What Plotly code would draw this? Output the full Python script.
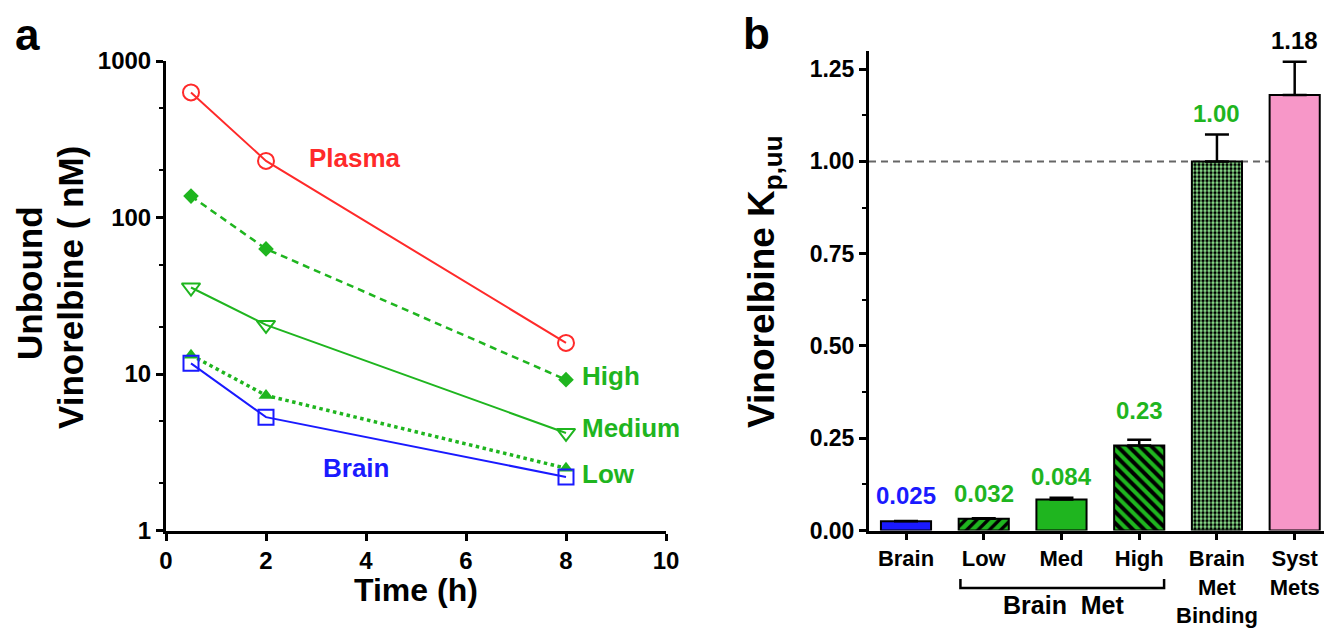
import plotly.graph_objects as go

# ---------------- data ----------------
time_h = [0.5, 2, 8]
plasma = [630, 230, 15.8]
high = [137, 63, 9.2]
medium = [35.7, 20.6, 4.2]
low = [13.2, 7.3, 2.5]
brain = [11.7, 5.3, 2.2]

bar_cats = ["Brain", "Low", "Med", "High", "Brain Met Binding", "Syst Mets"]
bar_ticktext = ["Brain", "Low", "Med", "High", "Brain<br>Met<br>Binding", "Syst<br>Mets"]
kp_values = [0.025, 0.032, 0.084, 0.23, 1.00, 1.18]
kp_errors = [0.001, 0.001, 0.005, 0.016, 0.073, 0.09]
kp_labels = ["0.025", "0.032", "0.084", "0.23", "1.00", "1.18"]

RED = "#ff2a2a"
GREEN = "#1fb51f"
BLUE = "#1a1aff"
PINK = "#f797c8"
LGREEN = "#90e890"
SANS = "Liberation Sans, Arial, sans-serif"

# the page body adds an 8px margin; size the figure so it fits the window exactly
OFF = 8
W, H = 1332 - 2 * OFF, 637 - 2 * OFF
def px(X):
    return (X - OFF) / W
def py(Y):
    return 1 - (Y - OFF) / H

fig = go.Figure()

# ---------------- panel a ----------------
fig.add_trace(go.Scatter(x=time_h, y=plasma, mode="lines+markers", xaxis="x", yaxis="y",
                         line=dict(color=RED, width=2),
                         marker=dict(symbol="circle-open", size=16, color=RED, line=dict(width=2))))
fig.add_trace(go.Scatter(x=time_h, y=high, mode="lines+markers", xaxis="x", yaxis="y",
                         line=dict(color=GREEN, width=2.5, dash="7px,5px"),
                         marker=dict(symbol="diamond", size=12, color=GREEN)))
fig.add_trace(go.Scatter(x=time_h, y=medium, mode="lines+markers", xaxis="x", yaxis="y",
                         line=dict(color=GREEN, width=2),
                         marker=dict(symbol="triangle-down-open", size=16, color=GREEN, line=dict(width=2))))
fig.add_trace(go.Scatter(x=time_h, y=low, mode="lines+markers", xaxis="x", yaxis="y",
                         line=dict(color=GREEN, width=3.5, dash="dot"),
                         marker=dict(symbol="triangle-up", size=13, color=GREEN)))
fig.add_trace(go.Scatter(x=time_h, y=brain, mode="lines+markers", xaxis="x", yaxis="y",
                         line=dict(color=BLUE, width=2),
                         marker=dict(symbol="square-open", size=15, color=BLUE, line=dict(width=2))))

# ---------------- panel b ----------------
bar_colors = [BLUE, GREEN, GREEN, GREEN, LGREEN, PINK]
bar_shapes = ["", "/", "", "\\", ".", ""]
bar_psize = [6, 8, 6, 8, 4, 6]
bar_solid = [0.3, 0.42, 0.3, 0.5, 0.55, 0.3]
for i in range(len(bar_cats)):
    fig.add_trace(go.Bar(
        x=[i], y=[kp_values[i]], xaxis="x2", yaxis="y2", width=0.645,
        marker=dict(color=bar_colors[i],
                    line=dict(color="black", width=2),
                    pattern=dict(shape=bar_shapes[i], fgcolor="black", bgcolor=bar_colors[i],
                                 fgopacity=1, size=bar_psize[i], solidity=bar_solid[i],
                                 fillmode="overlay")),
        error_y=dict(type="data", symmetric=False, array=[kp_errors[i]], arrayminus=[0],
                     color="black", thickness=2.5, width=12),
    ))

tickfont = dict(family=SANS, size=22, color="black", weight="bold")
tickfont_a = dict(family=SANS, size=24, color="black", weight="bold")

fig.update_layout(
    width=W, height=H,
    margin=dict(l=0, r=0, t=0, b=0, autoexpand=False),
    paper_bgcolor="white", plot_bgcolor="white",
    showlegend=False, barmode="overlay",
    xaxis=dict(domain=[px(166), px(666)], range=[0, 10], dtick=2, tick0=0,
               showgrid=False, zeroline=False, showline=True, linecolor="black", linewidth=3,
               ticks="outside", ticklen=7, tickwidth=2.5, tickcolor="black",
               tickfont=tickfont_a, anchor="y", automargin=False),
    yaxis=dict(domain=[py(530.5), py(61)], type="log", range=[0, 3],
               tickvals=[1, 10, 100, 1000], ticktext=["1", "10", "100", "1000"],
               showgrid=False, zeroline=False, showline=True, linecolor="black", linewidth=3,
               ticks="outside", ticklen=7, tickwidth=2.5, tickcolor="black",
               minor=dict(ticks="outside", ticklen=4, tickwidth=1.5, tickcolor="black",
                          dtick="D2", showgrid=False),
               tickfont=tickfont_a, anchor="x", automargin=False),
    xaxis2=dict(domain=[px(869), 1.0], range=[-0.476, 5.48 - OFF / 77.7],
                tickvals=list(range(len(bar_cats))), ticktext=bar_ticktext,
                showgrid=False, zeroline=False, showline=True, linecolor="black", linewidth=3,
                ticks="outside", ticklen=6, tickwidth=2.5, tickcolor="black",
                tickfont=tickfont, anchor="y2", automargin=False),
    yaxis2=dict(domain=[py(530.5), py(50.7)], range=[0, 1.30],
                tickvals=[0, 0.25, 0.5, 0.75, 1.0, 1.25], tickformat=".2f",
                showgrid=False, zeroline=False, showline=True, linecolor="black", linewidth=3,
                ticks="outside", ticklen=7, tickwidth=2.5, tickcolor="black",
                minor=dict(ticks="outside", ticklen=4, tickwidth=1.5, tickcolor="black",
                           dtick=0.125, showgrid=False),
                tickfont=dict(family=SANS, size=23, color="black", weight="bold"),
                anchor="x2", automargin=False),
)

# dashed reference line at Kp,uu = 1
fig.add_shape(type="line", xref="x2 domain", yref="y2", x0=0, x1=1, y0=1, y1=1,
              line=dict(color="#666666", width=2, dash="7px,5px"), layer="below")

# bracket under Low..High
fig.add_shape(type="path", xref="x2", yref="paper",
              path=f"M 0.70 {py(579)} L 0.70 {py(588)} L 3.32 {py(588)} L 3.32 {py(579)}",
              line=dict(color="black", width=2.5))

ann = []
def text(x, y, s, size, color="black", xref="paper", yref="paper", xanchor="center",
         angle=0):
    ann.append(dict(x=x, y=y, xref=xref, yref=yref, text=s, showarrow=False,
                    xanchor=xanchor, yanchor="middle", textangle=angle,
                    font=dict(family=SANS, size=size, color=color, weight="bold")))

# panel letters
text(px(27), py(35), "a", 44)
text(px(756), py(34), "b", 44)

# panel a titles (two rotated lines)
text(px(29), py(283), "Unbound", 35, angle=-90)
text(px(70), py(288), "Vinorelbine ( nM)", 35, angle=-90)
text(px(416), py(590), "Time (h)", 32)

# panel a series labels
text(3.78, 2.38, "Plasma", 26, RED, xref="x", yref="y")
text(8.28, 0.99, "High", 26, GREEN, xref="x", yref="y", xanchor="left")
text(8.28, 0.655, "Medium", 26, GREEN, xref="x", yref="y", xanchor="left")
text(8.28, 0.36, "Low", 26, GREEN, xref="x", yref="y", xanchor="left")
text(3.8, 0.40, "Brain", 26, BLUE, xref="x", yref="y")

# panel b titles
text(px(764), py(282), "Vinorelbine K<sub>p,uu</sub>", 37, angle=-90)
text(2.03, py(605), "Brain  Met", 25, xref="x2")

# bar value labels (the last one sits above the axis range, so it is placed in paper units)
label_y = [0.096, 0.099, 0.146, 0.324, 1.131, None]
label_col = [BLUE, GREEN, GREEN, GREEN, GREEN, "black"]
for i, (lab, yy, cc) in enumerate(zip(kp_labels, label_y, label_col)):
    if yy is None:
        text(i, py(40), lab, 24, cc, xref="x2", yref="paper")
    else:
        text(i, yy, lab, 24, cc, xref="x2", yref="y2")

fig.update_layout(annotations=ann)

fig.write_html("out.html")
